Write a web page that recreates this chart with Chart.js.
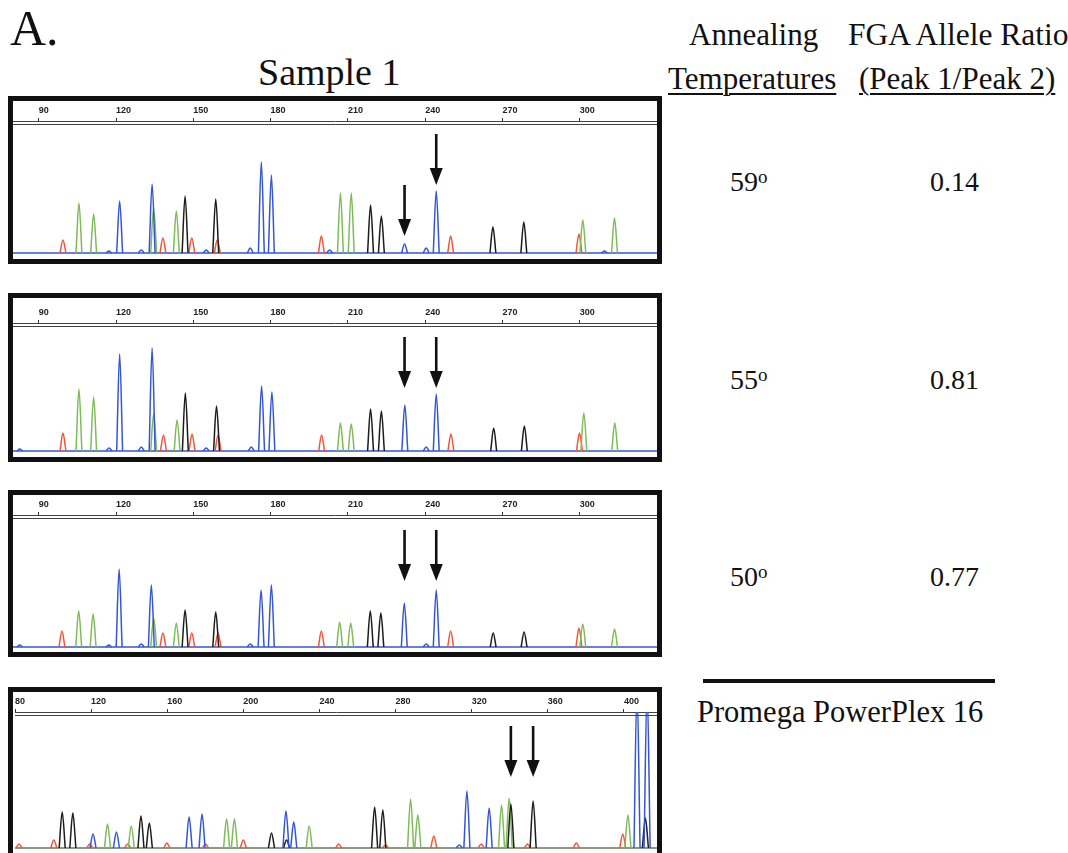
<!DOCTYPE html>
<html>
<head>
<meta charset="utf-8">
<script src="https://cdn.jsdelivr.net/npm/chart.js"></script>
<style>
  body { margin: 0; width: 1068px; height: 853px; overflow: hidden; background: #fff; position: relative;
         font-family: "Liberation Serif", "Times New Roman", serif; color: #111; }
  .t { position: absolute; white-space: nowrap; line-height: 1; }
  .u { text-decoration: underline; text-decoration-thickness: 1.5px; text-underline-offset: 4px; }
  .panel { position: absolute; left: 8px; width: 644px; border: 5px solid #111; }
  .panel canvas { display: block; }
  sup { font-size: 19px; vertical-align: 8px; line-height: 0; }
</style>
</head>
<body>
<div class="t" style="left:10px;top:3px;font-size:50px">A.</div>
<div class="t" style="left:258px;top:53px;font-size:38px">Sample 1</div>
<div class="t" style="left:689px;top:19px;font-size:31px">Annealing</div>
<div class="t" style="left:848px;top:19px;font-size:31.5px">FGA Allele Ratio</div>
<div class="t u" style="left:668px;top:63px;font-size:31px">Temperatures</div>
<div class="t u" style="left:859px;top:63px;font-size:31px">(Peak 1/Peak 2)</div>
<div id="temps"></div>

<div class="panel" style="top:96px;height:158px"><canvas id="p59" width="644" height="158"></canvas></div>
<div class="panel" style="top:293px;height:159px"><canvas id="p55" width="644" height="159"></canvas></div>
<div class="panel" style="top:490px;height:157px"><canvas id="p50" width="644" height="157"></canvas></div>
<div class="panel" style="top:687px;height:161px"><canvas id="pp16" width="644" height="161"></canvas></div>

<div style="position:absolute;left:703px;top:679px;width:292px;height:4px;background:#111"></div>
<div class="t" style="left:697px;top:697px;font-size:30.5px">Promega PowerPlex 16</div>

<script>
// 온도별 FGA 비율
const temps = ['59', '55', '50'];
const ratios = ['0.14', '0.81', '0.77'];

// 눈금 (bp)
const ticksSample = [90, 120, 150, 180, 210, 240, 270, 300];
const ticksPP16 = [80, 120, 160, 200, 240, 280, 320, 360, 400];

// 59도 피크 [bp, 높이]
const p59Blue = [[117.2, 2], [121.4, 52], [129.8, 3], [134, 69], [155, 3], [172.1, 5], [176.4, 91], [180.3, 78],
  [202.9, 3], [232, 9], [240.4, 5], [244.3, 62], [309.6, 2]];
const p59Green = [[105.6, 50], [111.3, 39], [134.6, 45], [143.4, 42], [207.1, 60], [211.3, 60], [301.2, 33], [313.5, 35]];
const p59Black = [[146.8, 57], [158.7, 54], [218.8, 48], [223, 37], [266.3, 26], [278.3, 31]];
const p59Red = [[99.4, 13], [138.2, 15], [149.4, 15], [159.3, 13], [199.7, 17], [249.9, 17], [299.7, 19]];

// 55도
const p55Blue = [[82.6, 2], [117.3, 3], [121.4, 97], [129.8, 4], [134, 103], [155, 3], [172.5, 4], [176.5, 65],
  [180.5, 59], [232.1, 46], [240.4, 4], [244.3, 57]];
const p55Green = [[105.6, 62], [111.3, 54], [134.6, 37], [143.7, 31], [207.1, 28], [211.3, 27], [301.6, 38], [313.6, 28]];
const p55Black = [[146.9, 58], [159, 45], [218.8, 42], [223, 40], [266.6, 23], [278.5, 25]];
const p55Red = [[99.4, 18], [138.4, 16], [149.5, 17], [159.6, 16], [199.8, 16], [250, 17], [299.9, 18]];

// 50도
const p50Blue = [[82.6, 2], [117.2, 2], [121.2, 78], [129.8, 3], [133.7, 62], [172.1, 3], [176.3, 57], [180.3, 62],
  [231.9, 44], [240.4, 3], [244.3, 57]];
const p50Green = [[105.5, 36], [111.1, 33], [134.6, 29], [143.4, 24], [206.8, 25], [211.1, 24], [301.2, 23], [313.5, 18]];
const p50Black = [[146.8, 37], [158.7, 35], [218.7, 36], [222.8, 34], [266.4, 14], [278.4, 15]];
const p50Red = [[99, 16], [138.2, 14], [149.4, 14], [159.6, 14], [199.7, 16], [249.9, 16], [299.7, 19]];

// PowerPlex 16
const pp16Blue = [[121, 14], [133.3, 16], [171.5, 31], [178.3, 34], [222.4, 37], [226.5, 26], [313.5, 3], [317.5, 57],
  [329.2, 40], [406.9, 160], [412.2, 160]];
const pp16Green = [[128.6, 24], [141.1, 22], [191.2, 29], [195.3, 29], [234.6, 22], [287.9, 49], [291.7, 33],
  [335.7, 43], [339.7, 50], [402.1, 33]];
const pp16Black = [[104.8, 36], [110.4, 35], [146.2, 32], [150.6, 25], [214.8, 15], [222.7, 8], [269, 41],
  [273.3, 38], [340.6, 44], [352.3, 47], [411.3, 30]];
const pp16Red = [[82.1, 4], [100.4, 8], [119.3, 4], [139.2, 4], [159.8, 5], [180.1, 4], [200, 8], [250.1, 4],
  [274.7, 3], [300.1, 12], [325, 4], [349.3, 4], [375, 5], [399.4, 14]];

// FGA 화살표 위치 (bp)
const arrowsSample = [232, 244.3];
const arrowsPP16 = [340.6, 352.3];

// 온도 / 비율 텍스트
const tempTops = [168, 366, 563];
temps.forEach(function(t, i){
  document.getElementById('temps').insertAdjacentHTML('beforeend',
    '<div class="t" style="left:730px;top:' + tempTops[i] + 'px;font-size:28px">' + t + '<sup>o</sup></div>' +
    '<div class="t" style="left:930px;top:' + tempTops[i] + 'px;font-size:28px">' + ratios[i] + '</div>');
});

function peakLine(list, w){
  let pts = [];
  list.forEach(function(p){
    pts.push({x: p[0] - w, y: 0}, {x: p[0], y: p[1]}, {x: p[0] + w, y: 0}, {x: p[0] + w, y: null});
  });
  return pts;
}

// 이중선 + 화살표
const overlay = {
  id: 'overlay',
  afterDatasetsDraw(chart, args, opts){
    const ctx = chart.ctx, a = chart.chartArea;
    const xs = chart.scales.x, ys = chart.scales.y;
    ctx.save();
    ctx.strokeStyle = '#444';
    ctx.lineWidth = 1;
    ctx.beginPath();
    ctx.moveTo(a.left, a.top + 3.5);
    ctx.lineTo(a.right, a.top + 3.5);
    ctx.stroke();
    ctx.fillStyle = '#111';
    opts.arrows.forEach(function(x, i){
      const px = xs.getPixelForValue(x);
      const tip = ys.getPixelForValue(opts.tips[i]);
      ctx.fillRect(px - 1.3, tip - 51, 2.6, 36);
      ctx.beginPath();
      ctx.moveTo(px - 6.5, tip - 17);
      ctx.lineTo(px + 6.5, tip - 17);
      ctx.lineTo(px, tip);
      ctx.closePath();
      ctx.fill();
    });
    ctx.restore();
  }
};

function makePanel(id, s){
  const w = s.w;
  new Chart(document.getElementById(id), {
    type: 'line',
    data: {
      datasets: [
        {data: peakLine(s.blue, w), borderColor: '#3556d4'},
        {data: peakLine(s.black, w), borderColor: '#1c1c1c'},
        {data: peakLine(s.green, w), borderColor: '#80bb5a'},
        {data: peakLine(s.red, w), borderColor: '#f2553a'},
        {data: [{x: s.min, y: 0}, {x: s.max, y: 0}], borderColor: s.base}
      ]
    },
    options: {
      animation: false,
      responsive: false,
      layout: {padding: 0},
      elements: {
        point: {radius: 0},
        line: {borderWidth: 1.5, cubicInterpolationMode: 'monotone'}
      },
      plugins: {
        legend: {display: false},
        tooltip: {enabled: false},
        overlay: {arrows: s.arrows, tips: s.tips}
      },
      scales: {
        x: {
          type: 'linear', position: 'top', min: s.min, max: s.max,
          afterBuildTicks: function(sc){ sc.ticks = s.ticks.map(v => ({value: v})); },
          afterFit: function(sc){ sc.height = s.axisH; },
          ticks: {align: 'start', padding: 2, color: '#222',
                  font: {family: 'Liberation Sans', weight: 'bold', size: 9}},
          grid: {drawOnChartArea: false, tickLength: 3, color: '#333'},
          border: {color: '#444', width: 1}
        },
        y: {display: false, min: s.yMin, max: s.yMax}
      }
    },
    plugins: [overlay]
  });
}

makePanel('p59', {blue: p59Blue, green: p59Green, black: p59Black, red: p59Red, w: 1.15,
  min: 80, max: 330, ticks: ticksSample, axisH: 20, yMin: -6, yMax: 132, base: '#3556d4',
  arrows: arrowsSample, tips: [17, 68]});
makePanel('p55', {blue: p55Blue, green: p55Green, black: p55Black, red: p55Red, w: 1.15,
  min: 80, max: 330, ticks: ticksSample, axisH: 25, yMin: -6, yMax: 128, base: '#3556d4',
  arrows: arrowsSample, tips: [63, 63]});
makePanel('p50', {blue: p50Blue, green: p50Green, black: p50Black, red: p50Red, w: 1.15,
  min: 80, max: 330, ticks: ticksSample, axisH: 20, yMin: -5, yMax: 132, base: '#3556d4',
  arrows: arrowsSample, tips: [66, 66]});
makePanel('pp16', {blue: pp16Blue, green: pp16Green, black: pp16Black, red: pp16Red, w: 1.6,
  min: 80, max: 417.4, ticks: ticksPP16, axisH: 20, yMin: -5, yMax: 136, base: '#5f7a5c',
  arrows: arrowsPP16, tips: [71, 71]});
</script>
</body>
</html>
